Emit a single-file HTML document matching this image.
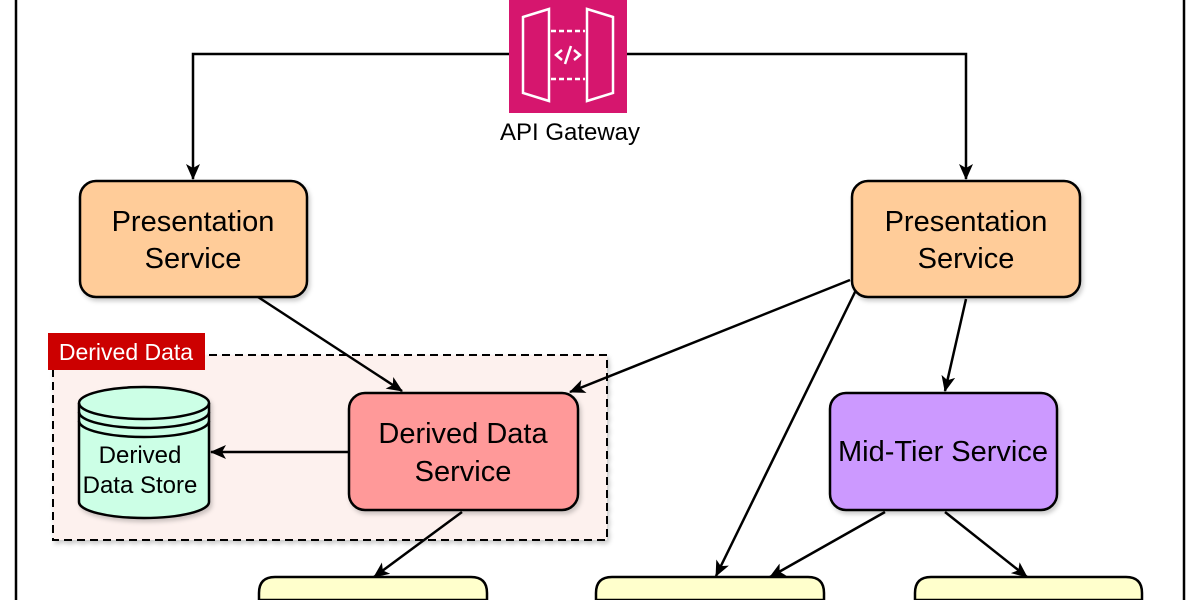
<!DOCTYPE html>
<html><head><style>
html,body{margin:0;padding:0;background:#fff;width:1200px;height:600px;overflow:hidden;}
svg{display:block;font-family:"Liberation Sans",Arial,sans-serif;}
</style></head><body>
<svg width="1200" height="600" viewBox="0 0 1200 600" xmlns="http://www.w3.org/2000/svg">
<defs>
<marker id="a" markerWidth="16" markerHeight="16" refX="15" refY="8" orient="auto" markerUnits="userSpaceOnUse" viewBox="0 0 16 16">
<path d="M0,1 L16,8 L0,15 L4,8 z" fill="#000"/>
</marker>
<filter id="sh" x="-5%" y="-5%" width="115%" height="120%"><feDropShadow dx="2" dy="3" stdDeviation="2" flood-color="#000" flood-opacity="0.2"/></filter>
</defs>
<path d="M16,0 V600 M1184,0 V600" stroke="#000" stroke-width="2.5"/>
<rect x="53" y="355" width="554" height="185" fill="#fdf1ee" stroke="#000" stroke-width="2" stroke-dasharray="8,5" filter="url(#sh)"/>
<rect x="48" y="333" width="157" height="37" fill="#cc0000"/>
<text x="126" y="360" font-size="23" fill="#fff" text-anchor="middle">Derived Data</text>
<rect x="509" y="0" width="118" height="113" fill="#d6166e"/>
<g fill="none" stroke="#fff" stroke-width="2.5">
<path d="M523,17 L549,9 L549,101 L523,93 Z"/>
<path d="M613,17 L587,9 L587,101 L613,93 Z"/>
<path d="M551,31 H585 M551,79 H585" stroke-dasharray="5,3"/>
<path d="M562,50 L556,55 L562,60 M574,50 L580,55 L574,60 M571,46 L565,64"/>
</g>
<text x="570" y="140" font-size="24" text-anchor="middle">API Gateway</text>
<g stroke="#000" stroke-width="2.5" fill="none" marker-end="url(#a)">
<path d="M509,54 H193 V179"/>
<path d="M627,54 H966 V179"/>
<path d="M258,297 L402,391"/>
<path d="M850,280 L570,392"/>
<path d="M856,290 L716,576"/>
<path d="M966,299 L945,391"/>
<path d="M349,452 L211,452"/>
<path d="M462,512 L374,577"/>
<path d="M885,512 L770,577"/>
<path d="M945,512 L1027,577"/>
</g>
<g stroke="#000" stroke-width="2.5" filter="url(#sh)">
<rect x="80" y="181" width="227" height="116" rx="16" fill="#ffcc99"/>
<rect x="852" y="181" width="228" height="116" rx="16" fill="#ffcc99"/>
<rect x="349" y="393" width="229" height="117" rx="16" fill="#ff9999"/>
<rect x="830" y="393" width="227" height="117" rx="16" fill="#cc99ff"/>
</g>
<g stroke="#000" stroke-width="2.5">
<path d="M259,600 V593 Q259,577 275,577 H471 Q487,577 487,593 V600 Z" fill="#ffffcc"/>
<path d="M596,600 V593 Q596,577 612,577 H808 Q824,577 824,593 V600 Z" fill="#ffffcc"/>
<path d="M915,600 V593 Q915,577 931,577 H1126 Q1142,577 1142,593 V600 Z" fill="#ffffcc"/>
</g>
<g stroke="#000" stroke-width="2.5" fill="#ccffe6" filter="url(#sh)">
<path d="M79,403 A65,16 0 0 1 209,403 V502 A65,16 0 0 1 79,502 Z"/>
</g>
<g stroke="#000" stroke-width="2.5" fill="none">
<path d="M79,403 A65,16 0 0 0 209,403"/>
<path d="M79,412 A65,16 0 0 0 209,412"/>
<path d="M79,421 A65,16 0 0 0 209,421"/>
</g>
<g font-size="29" text-anchor="middle" fill="#000">
<text x="193" y="231">Presentation</text>
<text x="193" y="268">Service</text>
<text x="966" y="231">Presentation</text>
<text x="966" y="268">Service</text>
<text x="463" y="443">Derived Data</text>
<text x="463" y="481">Service</text>
<text x="943" y="461">Mid-Tier Service</text>
</g>
<g font-size="24" text-anchor="middle">
<text x="140" y="463">Derived</text>
<text x="140" y="493">Data Store</text>
</g>
</svg>
</body></html>
